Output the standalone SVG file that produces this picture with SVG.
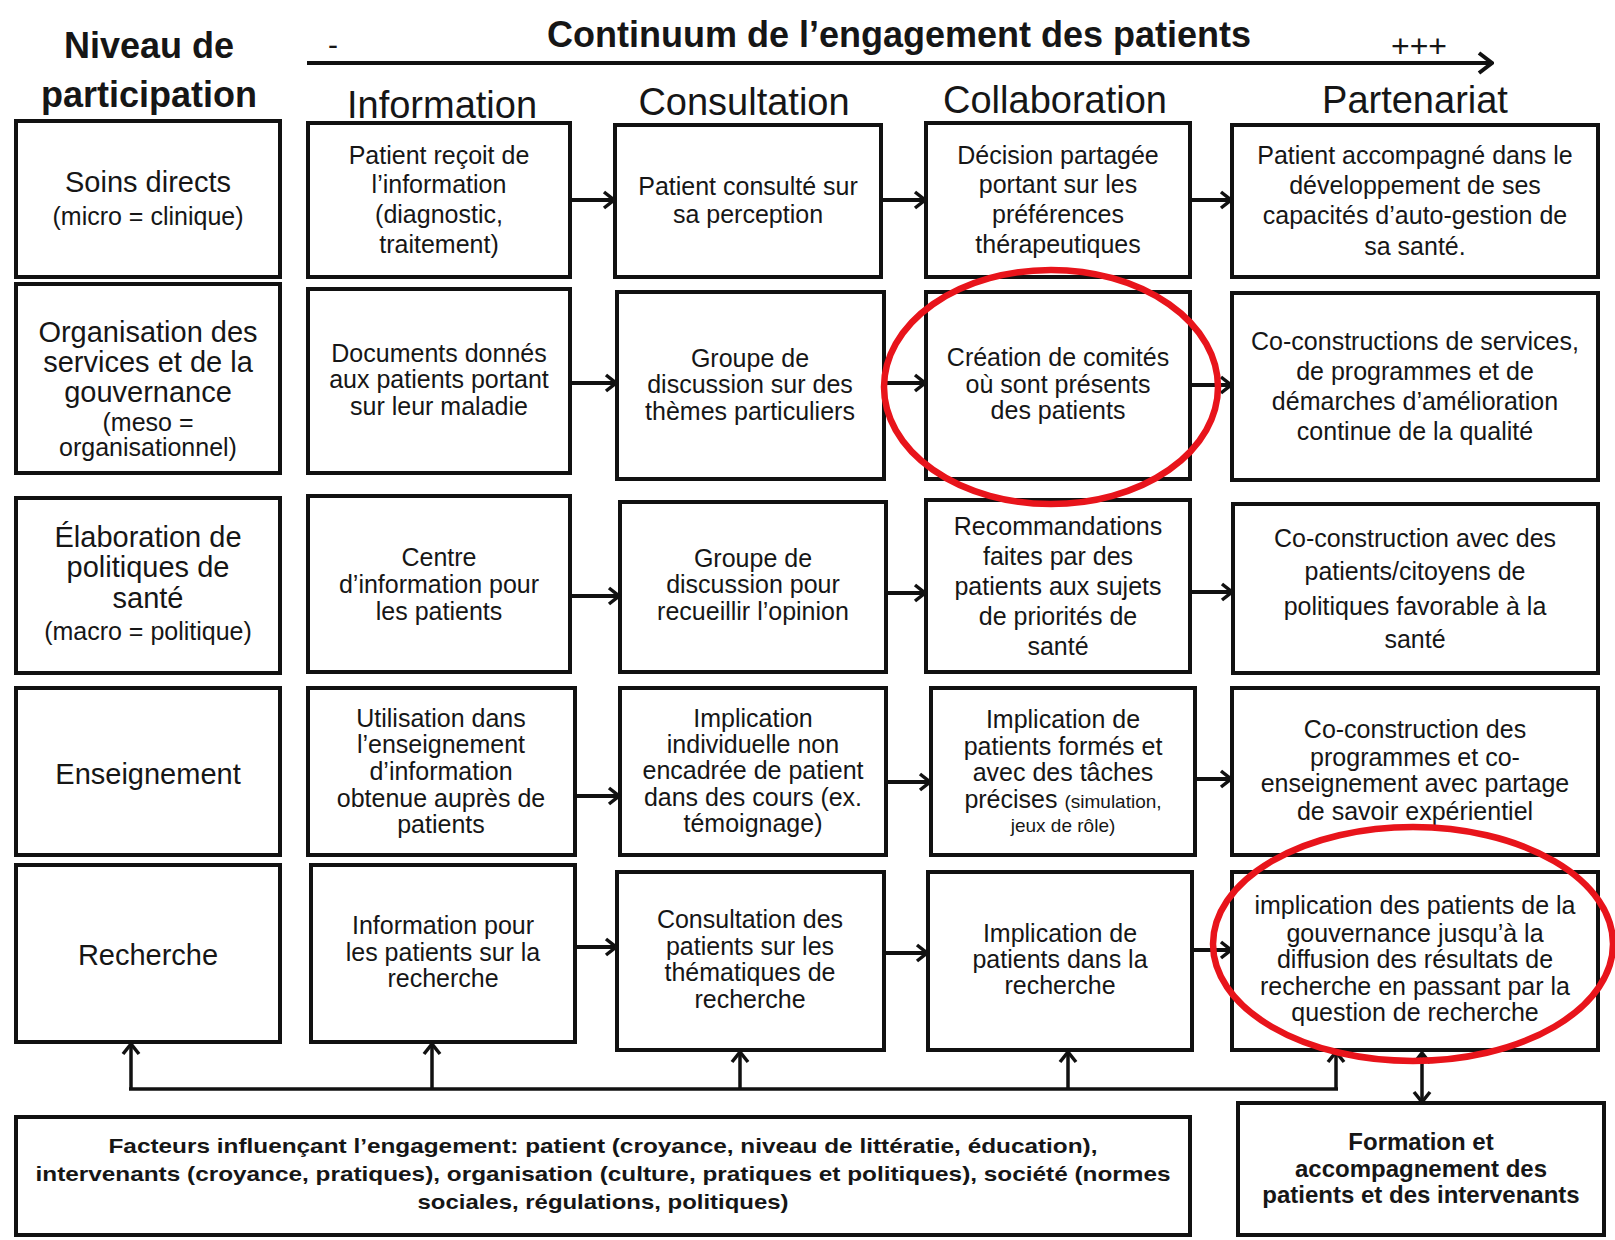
<svg xmlns="http://www.w3.org/2000/svg" width="1615" height="1240" viewBox="0 0 1615 1240">
<style>
text{font-family:"Liberation Sans",Arial,sans-serif;fill:#161616;text-anchor:middle}
.box{fill:#fff;stroke:#111;stroke-width:4}
.t{font-size:25px}
.lbl{font-size:29px}
.sm{font-size:25px}
.xs{font-size:19px}
.hdr{font-size:38px}
.ttl{font-size:36px;font-weight:bold}
.b21{font-size:21px;font-weight:bold}
.b24{font-size:24px;font-weight:bold}
.conn{stroke:#111;stroke-width:4;fill:none}
.ring{fill:none;stroke:#e8141b;stroke-width:6.5}
</style>
<defs>
<marker id="ah" markerUnits="userSpaceOnUse" viewBox="0 0 14 20" markerWidth="14" markerHeight="20" refX="12" refY="10" orient="auto-start-reverse"><path d="M2,2 L12,10 L2,18" fill="none" stroke="#111" stroke-width="3.5"/></marker>
<marker id="ahBig" markerUnits="userSpaceOnUse" viewBox="0 0 18 24" markerWidth="18" markerHeight="24" refX="16" refY="12" orient="auto"><path d="M3,2 L16,12 L3,22" fill="none" stroke="#111" stroke-width="4"/></marker>
</defs>

<g id="header">
<text class="ttl" x="899" y="47">Continuum de l’engagement des patients</text>
<text class="ttl" x="149" y="58">Niveau de</text>
<text class="ttl" x="149" y="107">participation</text>
<text x="333" y="55" style="font-size:30px">-</text>
<text x="1419" y="57" style="font-size:32px">+++</text>
<line class="conn" x1="307" y1="63" x2="1492" y2="63" marker-end="url(#ahBig)"/>
<text class="hdr" x="442" y="118">Information</text>
<text class="hdr" x="744" y="115">Consultation</text>
<text class="hdr" x="1055" y="113">Collaboration</text>
<text class="hdr" x="1415" y="113">Partenariat</text>
</g>

<!-- Row labels -->
<g id="soins">
<rect class="box" x="16" y="121" width="264" height="156"/>
<text x="148"><tspan class="lbl" x="148" y="192">Soins directs</tspan><tspan class="sm" x="148" y="225">(micro = clinique)</tspan></text>
</g>
<g id="organisation">
<rect class="box" x="16" y="284" width="264" height="189"/>
<text x="148"><tspan class="lbl" x="148" y="342">Organisation des</tspan><tspan class="lbl" x="148" y="372">services et de la</tspan><tspan class="lbl" x="148" y="402">gouvernance</tspan><tspan class="sm" x="148" y="431">(meso =</tspan><tspan class="sm" x="148" y="456">organisationnel)</tspan></text>
</g>
<g id="elaboration">
<rect class="box" x="16" y="498" width="264" height="175"/>
<text x="148"><tspan class="lbl" x="148" y="547">Élaboration de</tspan><tspan class="lbl" x="148" y="577">politiques de</tspan><tspan class="lbl" x="148" y="608">santé</tspan><tspan class="sm" x="148" y="640">(macro = politique)</tspan></text>
</g>
<g id="enseignement">
<rect class="box" x="16" y="688" width="264" height="167"/>
<text class="lbl" x="148" y="784">Enseignement</text>
</g>
<g id="recherche">
<rect class="box" x="16" y="865" width="264" height="177"/>
<text class="lbl" x="148" y="965">Recherche</text>
</g>

<!-- Column Information -->
<g id="info-1">
<rect class="box" x="308" y="123" width="262" height="154"/>
<text class="t"><tspan x="439" y="164">Patient reçoit de</tspan><tspan x="439" y="193">l’information</tspan><tspan x="439" y="223">(diagnostic,</tspan><tspan x="439" y="253">traitement)</tspan></text>
</g>
<g id="info-2">
<rect class="box" x="308" y="289" width="262" height="184"/>
<text class="t"><tspan x="439" y="362">Documents donnés</tspan><tspan x="439" y="388">aux patients portant</tspan><tspan x="439" y="415">sur leur maladie</tspan></text>
</g>
<g id="info-3">
<rect class="box" x="308" y="496" width="262" height="176"/>
<text class="t"><tspan x="439" y="566">Centre</tspan><tspan x="439" y="593">d’information pour</tspan><tspan x="439" y="620">les patients</tspan></text>
</g>
<g id="info-4">
<rect class="box" x="308" y="688" width="267" height="167"/>
<text class="t"><tspan x="441" y="727">Utilisation dans</tspan><tspan x="441" y="753">l’enseignement</tspan><tspan x="441" y="780">d’information</tspan><tspan x="441" y="807">obtenue auprès de</tspan><tspan x="441" y="833">patients</tspan></text>
</g>
<g id="info-5">
<rect class="box" x="311" y="865" width="264" height="177"/>
<text class="t"><tspan x="443" y="934">Information pour</tspan><tspan x="443" y="961">les patients sur la</tspan><tspan x="443" y="987">recherche</tspan></text>
</g>

<!-- Column Consultation -->
<g id="consult-1">
<rect class="box" x="615" y="125" width="266" height="152"/>
<text class="t"><tspan x="748" y="195">Patient consulté sur</tspan><tspan x="748" y="223">sa perception</tspan></text>
</g>
<g id="consult-2">
<rect class="box" x="617" y="292" width="267" height="187"/>
<text class="t"><tspan x="750" y="367">Groupe de</tspan><tspan x="750" y="393">discussion sur des</tspan><tspan x="750" y="420">thèmes particuliers</tspan></text>
</g>
<g id="consult-3">
<rect class="box" x="620" y="502" width="266" height="170"/>
<text class="t"><tspan x="753" y="567">Groupe de</tspan><tspan x="753" y="593">discussion pour</tspan><tspan x="753" y="620">recueillir l’opinion</tspan></text>
</g>
<g id="consult-4">
<rect class="box" x="620" y="688" width="266" height="167"/>
<text class="t"><tspan x="753" y="727">Implication</tspan><tspan x="753" y="753">individuelle non</tspan><tspan x="753" y="779">encadrée de patient</tspan><tspan x="753" y="806">dans des cours (ex.</tspan><tspan x="753" y="832">témoignage)</tspan></text>
</g>
<g id="consult-5">
<rect class="box" x="617" y="872" width="267" height="178"/>
<text class="t"><tspan x="750" y="928">Consultation des</tspan><tspan x="750" y="955">patients sur les</tspan><tspan x="750" y="981">thématiques de</tspan><tspan x="750" y="1008">recherche</tspan></text>
</g>

<!-- Column Collaboration -->
<g id="collab-1">
<rect class="box" x="926" y="123" width="264" height="154"/>
<text class="t"><tspan x="1058" y="164">Décision partagée</tspan><tspan x="1058" y="193">portant sur les</tspan><tspan x="1058" y="223">préférences</tspan><tspan x="1058" y="253">thérapeutiques</tspan></text>
</g>
<g id="collab-2">
<rect class="box" x="926" y="292" width="264" height="187"/>
<text class="t"><tspan x="1058" y="366">Création de comités</tspan><tspan x="1058" y="393">où sont présents</tspan><tspan x="1058" y="419">des patients</tspan></text>
</g>
<g id="collab-3">
<rect class="box" x="926" y="500" width="264" height="172"/>
<text class="t"><tspan x="1058" y="535">Recommandations</tspan><tspan x="1058" y="565">faites par des</tspan><tspan x="1058" y="595">patients aux sujets</tspan><tspan x="1058" y="625">de priorités de</tspan><tspan x="1058" y="655">santé</tspan></text>
</g>
<g id="collab-4">
<rect class="box" x="931" y="688" width="264" height="167"/>
<text class="t"><tspan x="1063" y="728">Implication de</tspan><tspan x="1063" y="755">patients formés et</tspan><tspan x="1063" y="781">avec des tâches</tspan><tspan x="1063" y="808">précises <tspan class="xs">(simulation,</tspan></tspan><tspan class="xs" x="1063" y="832">jeux de rôle)</tspan></text>
</g>
<g id="collab-5">
<rect class="box" x="928" y="872" width="264" height="178"/>
<text class="t"><tspan x="1060" y="942">Implication de</tspan><tspan x="1060" y="968">patients dans la</tspan><tspan x="1060" y="994">recherche</tspan></text>
</g>

<!-- Column Partenariat -->
<g id="part-1">
<rect class="box" x="1232" y="125" width="366" height="152"/>
<text class="t"><tspan x="1415" y="164">Patient accompagné dans le</tspan><tspan x="1415" y="194">développement de ses</tspan><tspan x="1415" y="224">capacités d’auto-gestion de</tspan><tspan x="1415" y="255">sa santé.</tspan></text>
</g>
<g id="part-2">
<rect class="box" x="1232" y="293" width="366" height="187"/>
<text class="t"><tspan x="1415" y="350">Co-constructions de services,</tspan><tspan x="1415" y="380">de programmes et de</tspan><tspan x="1415" y="410">démarches d’amélioration</tspan><tspan x="1415" y="440">continue de la qualité</tspan></text>
</g>
<g id="part-3">
<rect class="box" x="1233" y="504" width="365" height="169"/>
<text class="t"><tspan x="1415" y="547">Co-construction avec des</tspan><tspan x="1415" y="580">patients/citoyens de</tspan><tspan x="1415" y="615">politiques favorable à la</tspan><tspan x="1415" y="648">santé</tspan></text>
</g>
<g id="part-4">
<rect class="box" x="1232" y="688" width="366" height="167"/>
<text class="t"><tspan x="1415" y="738">Co-construction des</tspan><tspan x="1415" y="766">programmes et co-</tspan><tspan x="1415" y="792">enseignement avec partage</tspan><tspan x="1415" y="820">de savoir expérientiel</tspan></text>
</g>
<g id="part-5">
<rect class="box" x="1232" y="872" width="366" height="178"/>
<text class="t"><tspan x="1415" y="914">implication des patients de la</tspan><tspan x="1415" y="942">gouvernance jusqu’à la</tspan><tspan x="1415" y="968">diffusion des résultats de</tspan><tspan x="1415" y="995">recherche en passant par la</tspan><tspan x="1415" y="1021">question de recherche</tspan></text>
</g>

<!-- Bottom boxes -->
<g id="facteurs">
<rect class="box" x="16" y="1117" width="1174" height="118"/>
<text class="b21"><tspan x="603" y="1153" textLength="989" lengthAdjust="spacingAndGlyphs">Facteurs influençant l’engagement: patient (croyance, niveau de littératie, éducation),</tspan><tspan x="603" y="1181" textLength="1135" lengthAdjust="spacingAndGlyphs">intervenants (croyance, pratiques), organisation (culture, pratiques et politiques), société (normes</tspan><tspan x="603" y="1209" textLength="371" lengthAdjust="spacingAndGlyphs">sociales, régulations, politiques)</tspan></text>
</g>
<g id="formation">
<rect class="box" x="1238" y="1103" width="366" height="132"/>
<text class="b24"><tspan x="1421" y="1150">Formation et</tspan><tspan x="1421" y="1177">accompagnement des</tspan><tspan x="1421" y="1203">patients et des intervenants</tspan></text>
</g>

<!-- Connectors -->
<g id="connectors">
<line class="conn" x1="570" y1="200" x2="614" y2="200" marker-end="url(#ah)"/>
<line class="conn" x1="881" y1="200" x2="925" y2="200" marker-end="url(#ah)"/>
<line class="conn" x1="1190" y1="200" x2="1231" y2="200" marker-end="url(#ah)"/>

<line class="conn" x1="570" y1="383" x2="616" y2="383" marker-end="url(#ah)"/>
<line class="conn" x1="884" y1="383" x2="925" y2="383" marker-end="url(#ah)"/>
<line class="conn" x1="1190" y1="385" x2="1231" y2="385" marker-end="url(#ah)"/>

<line class="conn" x1="570" y1="596" x2="619" y2="596" marker-end="url(#ah)"/>
<line class="conn" x1="886" y1="593" x2="925" y2="593" marker-end="url(#ah)"/>
<line class="conn" x1="1190" y1="592" x2="1232" y2="592" marker-end="url(#ah)"/>

<line class="conn" x1="575" y1="796" x2="619" y2="796" marker-end="url(#ah)"/>
<line class="conn" x1="886" y1="782" x2="930" y2="782" marker-end="url(#ah)"/>
<line class="conn" x1="1195" y1="779" x2="1231" y2="779" marker-end="url(#ah)"/>

<line class="conn" x1="575" y1="947" x2="616" y2="947" marker-end="url(#ah)"/>
<line class="conn" x1="884" y1="953" x2="927" y2="953" marker-end="url(#ah)"/>
<line class="conn" x1="1192" y1="950" x2="1231" y2="950" marker-end="url(#ah)"/>

<path class="conn" d="M129,1089 L1338,1089" style="stroke-width:3.5"/>
<line class="conn" x1="131" y1="1089" x2="131" y2="1044" style="stroke-width:3.5" marker-end="url(#ah)"/>
<line class="conn" x1="432" y1="1089" x2="432" y2="1044" style="stroke-width:3.5" marker-end="url(#ah)"/>
<line class="conn" x1="740" y1="1089" x2="740" y2="1052" style="stroke-width:3.5" marker-end="url(#ah)"/>
<line class="conn" x1="1068" y1="1089" x2="1068" y2="1052" style="stroke-width:3.5" marker-end="url(#ah)"/>
<line class="conn" x1="1336" y1="1089" x2="1336" y2="1052" style="stroke-width:3.5" marker-end="url(#ah)"/>
<line class="conn" x1="1422" y1="1053" x2="1422" y2="1102" style="stroke-width:3.5" marker-start="url(#ah)" marker-end="url(#ah)"/>
</g>

<g id="highlights">
<ellipse class="ring" cx="1051" cy="387" rx="167" ry="117"/>
<ellipse class="ring" cx="1413" cy="944" rx="200" ry="117"/>
</g>
</svg>
